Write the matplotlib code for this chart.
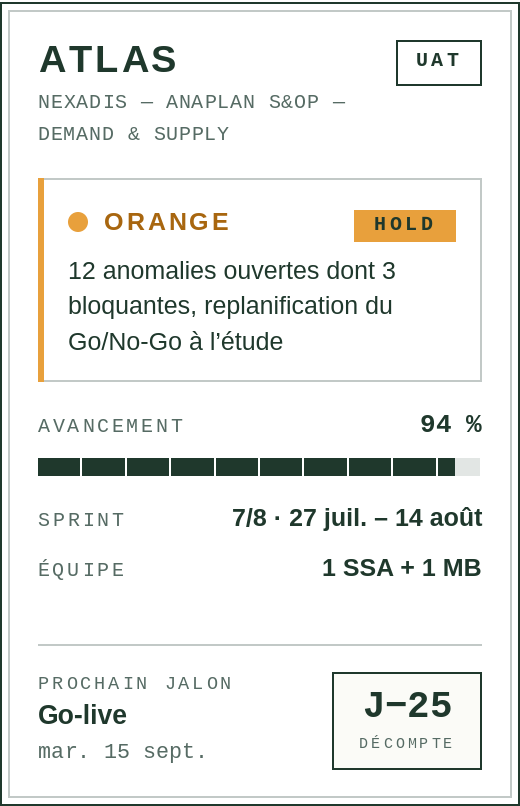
import matplotlib
matplotlib.use("Agg")
import matplotlib.pyplot as plt
from matplotlib import font_manager as fm
from matplotlib.ft2font import LoadFlags
from matplotlib.patches import Rectangle, Circle

#__ Card content ______________________________
title = "ATLAS"
subtitle = ["NEXADIS — ANAPLAN S&OP —", "DEMAND & SUPPLY"]
env = "UAT"
status = "ORANGE"
status_tag = "HOLD"
status_text = ["12 anomalies ouvertes dont 3", "bloquantes, replanification du", "Go/No-Go à l’étude"]
progress_label = "AVANCEMENT"
progress = 94      # [%]
n_segments = 10
rows = ["SPRINT", "ÉQUIPE"]
row_values = ["7/8 · 27 juil. – 14 août", "1 SSA + 1 MB"]
next_label = "PROCHAIN JALON"
next_name = "Go-live"
next_date = "mar. 15 sept."
countdown = "J−25"
countdown_label = "DÉCOMPTE"

DARK = "#1f382c"
GREY = "#566b64"
LINE = "#c2c9c7"
ORANGE = "#e8a03c"
BROWN = "#a8660f"
TRACK = "#e2e6e4"
SANS = "Liberation Sans"
MONO = "Liberation Mono"

plt.rcParams["text.hinting"] = "no_autohint"

W, H = 520, 806
fig = plt.figure(figsize=(W/100, H/100), dpi=100)
ax = fig.add_axes([0, 0, 1, 1])
ax.set_xlim(0, W)
ax.set_ylim(H, 0)
ax.axis("off")


def box(x0, y0, x1, y1, color, fill="none", lw=2):
    # border sits inside x0..x1 like css
    ax.add_patch(Rectangle((x0+lw/2, y0+lw/2), x1-x0-lw, y1-y0-lw, fc=fill, ec=color,
                           lw=lw*0.72, joinstyle="miter"))


def solid(x0, y0, x1, y1, color):
    ax.add_patch(Rectangle((x0, y0), x1-x0, y1-y0, fc=color, ec="none", lw=0))


def advance(c, px, family, weight):
    font = fm.get_font(fm.findfont(fm.FontProperties(family=family, weight=weight)))
    font.set_size(px*0.72, 100)
    return font.load_char(ord(c), flags=LoadFlags.NO_HINTING).linearHoriAdvance/65536


def label(x, y, s, px, color, family=MONO, weight="normal", spacing=0, align="left"):
    # letter spacing in px, each char is placed on its own
    widths = [advance(c, px, family, weight)+spacing for c in s]
    if align == "right":
        x = x-sum(widths)
    elif align == "center":
        x = x-sum(widths)/2
    for c, w in zip(s, widths):
        ax.text(x, y, c, fontsize=px*0.72, color=color, family=family, weight=weight,
                ha="left", va="baseline")
        x += w


# frames
box(0, 2, 520, 806, DARK)
box(8, 10, 512, 798, LINE)

# header
label(38, 72, title, 38, DARK, SANS, "bold", spacing=3)
label(37.6, 108, subtitle[0], 20, GREY, spacing=0.8)
label(37.6, 140, subtitle[1], 20, GREY, spacing=0.8)
box(396, 40, 482, 86, DARK)
label(439, 66, env, 20, DARK, MONO, "bold", spacing=3.6, align="center")

# status panel
box(38, 178, 482, 382, LINE)
solid(38, 178, 44, 382, ORANGE)
ax.add_patch(Circle((78, 222), 10, fc=ORANGE, ec="none"))
label(104, 230, status, 25, BROWN, SANS, "bold", spacing=2.8)
solid(354, 210, 456, 242, ORANGE)
label(405, 230, status_tag, 20, DARK, MONO, "bold", spacing=3.6, align="center")
for i, s in enumerate(status_text):
    ax.text(68, 279+i*35.4, s, fontsize=25*0.72, color=DARK, family=SANS, va="baseline")

# progress
label(38, 432, progress_label, 20, GREY, spacing=2.7)
label(482.2, 432, f"{progress} %", 26, DARK, MONO, "bold", spacing=0.1, align="right")
bar_x, bar_w = 38, 444
seg = bar_w/n_segments
ax.barh(467, bar_w, height=18, left=bar_x, color=TRACK, lw=0)
ax.barh(467, bar_w*progress/100, height=18, left=bar_x, color=DARK, lw=0)
for i in range(1, n_segments+1):
    ax.barh(467, 2, height=18, left=bar_x+i*seg-2, color="white", lw=0)

# rows
for i, (name, val) in enumerate(zip(rows, row_values)):
    y = 526+i*50
    label(37.6, y, name, 20, GREY, spacing=2.7)
    ax.text(482, y, val, fontsize=25*0.72, color=DARK, family=SANS, weight="bold",
            ha="right", va="baseline")

# next milestone
solid(38, 644, 482, 646, LINE)
label(38, 689, next_label, 18.5, GREY, spacing=2.9)
ax.text(38, 724, next_name, fontsize=26.5*0.72, color=DARK, family=SANS, weight="bold", va="baseline")
label(38, 758, next_date, 21.8, GREY, spacing=0)
box(332, 672, 482, 770, DARK, fill="#fbfbf7")
label(407, 717, countdown, 37.5, DARK, MONO, "bold", align="center")
label(407, 748, countdown_label, 15, GREY, spacing=3, align="center")

fig.savefig("out.png", dpi=100, facecolor="white")
